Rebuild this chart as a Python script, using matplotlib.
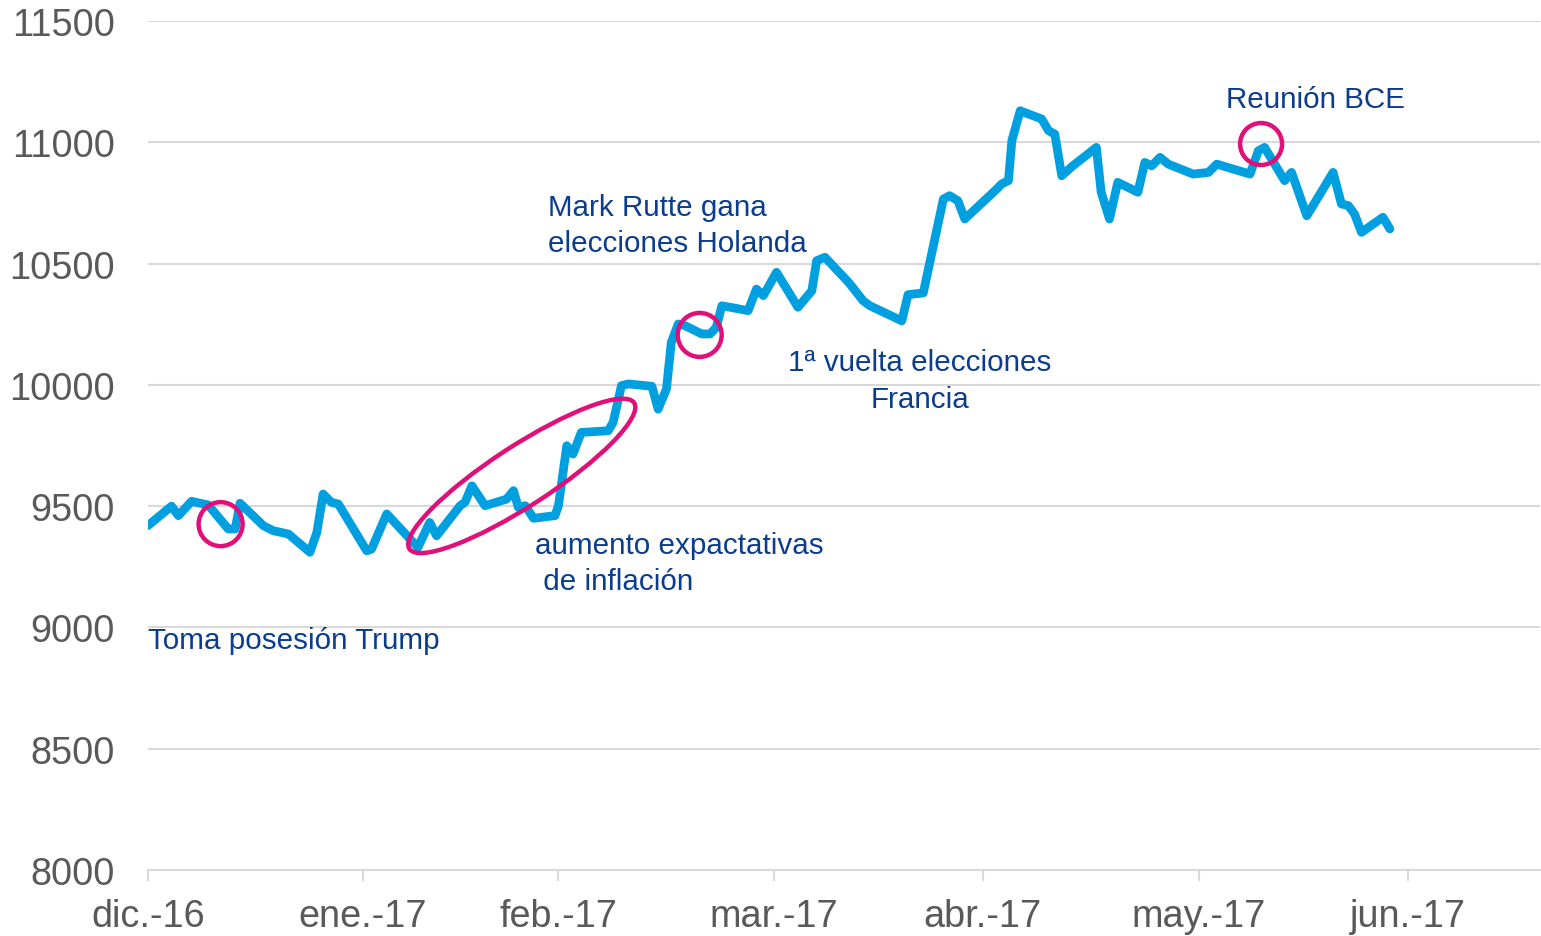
import matplotlib.pyplot as plt
from matplotlib.patches import Ellipse
from matplotlib.transforms import ScaledTranslation

plt.rcParams['font.family'] = ['Liberation Sans', 'DejaVu Sans']

# days counted from 1 dic. 2016 (axis position), index level
days = [0, 3.4, 4.4, 6.3, 8.7, 11.6, 12.6, 13.3, 16.7, 18.1, 20.3, 23.4, 24.4, 25.3,
        26.5, 27.5, 31.6, 32.3, 34.5, 39.0, 40.7, 41.7, 45.1, 45.8, 46.8, 48.7, 51.8,
        52.8, 53.5, 54.5, 55.7, 58.8, 59.3, 60.5, 61.4, 62.6, 66.5, 67.2, 68.4, 69.4,
        72.8, 73.7, 74.9, 75.6, 76.6, 77.6, 80.0, 81.2, 82.1, 82.9, 84.1, 86.7, 87.9,
        88.9, 90.8, 93.9, 95.9, 96.6, 97.8, 101.2, 101.6, 103.3, 104.3, 108.9, 109.8,
        112.0, 114.9, 115.8, 117.0, 118.0, 122.6, 123.3, 124.3, 124.8, 126.0, 129.1,
        130.1, 131.0, 132.0, 133.6, 137.0, 137.7, 138.9, 140.1, 143.0, 144.0, 145.0,
        146.2, 147.4, 151.0, 153.2, 154.4, 159.2, 160.4, 161.3, 164.2, 165.2, 167.4,
        168.3, 171.2, 172.4, 173.4, 174.3, 175.3, 178.4, 179.4]
level = [9420, 9500, 9461, 9520, 9505, 9406, 9406, 9512, 9419, 9399, 9385, 9310, 9392,
         9550, 9516, 9509, 9316, 9323, 9468, 9330, 9433, 9378, 9502, 9516, 9584, 9502,
         9529, 9564, 9495, 9502, 9450, 9461, 9502, 9749, 9715, 9804, 9811, 9846, 9997,
         10004, 9994, 9900, 9983, 10175, 10251, 10244, 10210, 10210, 10237, 10326, 10320,
         10306, 10395, 10368, 10464, 10320, 10388, 10512, 10526, 10423, 10409, 10347,
         10326, 10264, 10372, 10379, 10766, 10780, 10759, 10684, 10807, 10828, 10842,
         11007, 11130, 11096, 11048, 11034, 10862, 10903, 10979, 10794, 10684, 10835,
         10794, 10917, 10903, 10938, 10910, 10869, 10876, 10910, 10869, 10965, 10979,
         10842, 10876, 10697, 10739, 10876, 10746, 10739, 10704, 10629, 10691, 10643]

month_days = [0, 31, 59.3, 90.4, 120.6, 151.8, 182]
month_labels = ['dic.-16', 'ene.-17', 'feb.-17', 'mar.-17', 'abr.-17', 'may.-17', 'jun.-17']

# (day, level, width in, height in, angle)
marks = [(10.5, 9426, 0.44, 0.44, 0),
         (79.7, 10206, 0.44, 0.44, 0),
         (160.8, 10993, 0.42, 0.42, 0),
         (54.0, 9625, 2.68, 0.6, 33)]

notes = [(0, 8948, 'Toma posesión Trump', 'left'),
         (55.9, 9266, 'aumento expactativas\n de inflación', 'left'),
         (57.8, 10659, 'Mark Rutte gana\nelecciones Holanda', 'left'),
         (111.5, 10018, '1ª vuelta elecciones\nFrancia', 'center'),
         (168.6, 11178, 'Reunión BCE', 'center')]

navy = '#0B3D8F'
blue = '#00A0E0'
pink = '#E0107A'

fig = plt.figure(figsize=(15.41, 9.37), dpi=100)
ax = fig.add_axes([0.096, 0.0704, 0.9034, 0.9061])

ax.plot(days, level, color=blue, lw=6.3, solid_joinstyle='round', solid_capstyle='round', zorder=3)

for d, v, w, h, a in marks:
    tr = fig.dpi_scale_trans + ScaledTranslation(d, v, ax.transData)
    ax.add_patch(Ellipse((0, 0), w, h, angle=a, fill=False, ec=pink, lw=3.2, transform=tr, zorder=4))

for d, v, txt, ha in notes:
    ax.text(d, v, txt, color=navy, fontsize=21.3, ha=ha, va='center', linespacing=1.38)

ax.set_xlim(0, 201.1)
ax.set_ylim(8000, 11500)
ax.set_yticks(range(8000, 11501, 500))
ax.set_xticks(month_days)
ax.set_xticklabels(month_labels)
ax.grid(axis='y', color='#D9D9D9', lw=1.5)
ax.set_axisbelow(True)
for s in ['top', 'right', 'left']:
    ax.spines[s].set_visible(False)
ax.spines['bottom'].set_color('#D9D9D9')
ax.spines['bottom'].set_linewidth(1.5)
ax.tick_params(axis='y', length=0, pad=24, labelsize=27.3, labelcolor='#595959')
ax.tick_params(axis='x', length=8, width=1.5, color='#D9D9D9', pad=12, labelsize=27.3,
               labelcolor='#595959')

fig.savefig('out.png', dpi=100)
